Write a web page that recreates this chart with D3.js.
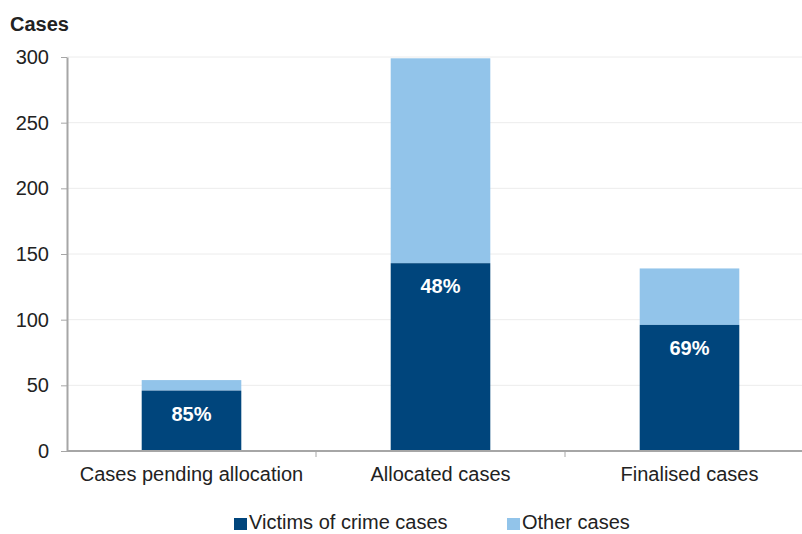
<!DOCTYPE html>
<html>
<head>
<meta charset="utf-8">
<script src="https://cdn.jsdelivr.net/npm/d3@7"></script>
<style>
  body { margin: 0; background: #fff; }
  svg { font-family: "Liberation Sans", Arial, sans-serif; }
</style>
</head>
<body>
<svg id="chart" width="802" height="534"></svg>
<script>
// datos
var categorias = ["Cases pending allocation", "Allocated cases", "Finalised cases"];
var victimas   = [46, 143, 96];
var otros      = [8, 156, 43];
var etiquetas  = ["85%", "48%", "69%"];
var yTicks     = [0, 50, 100, 150, 200, 250, 300];
var series     = ["Victims of crime cases", "Other cases"];
var colores    = ["#00457c", "#92c4ea"];

var svg = d3.select("#chart");

// margenes
var x0 = 67, x1 = 814, yTop = 57, yBot = 451;

var xScale = d3.scaleBand()
               .domain(categorias)
               .range([x0, x1])
               .paddingInner(0.6)
               .paddingOuter(0.3);

var yScale = d3.scaleLinear()
               .domain([0, 300])
               .range([yBot, yTop]);

// cuadricula
svg.append("g")
   .selectAll("line")
   .data(yTicks.slice(1))
   .enter().append("line")
   .attr("x1", x0).attr("x2", x1)
   .attr("y1", d => yScale(d)).attr("y2", d => yScale(d))
   .attr("stroke", "#ececec");

// barras apiladas
var datos = categorias.map((c, i) => ({cat: c, v: victimas[i], o: otros[i], lab: etiquetas[i]}));

svg.append("g").selectAll("rect")
   .data(datos).enter().append("rect")
   .attr("x", d => xScale(d.cat))
   .attr("width", xScale.bandwidth())
   .attr("y", d => yScale(d.v + d.o))
   .attr("height", d => yScale(d.v) - yScale(d.v + d.o))
   .attr("fill", colores[1]);

svg.append("g").selectAll("rect")
   .data(datos).enter().append("rect")
   .attr("x", d => xScale(d.cat))
   .attr("width", xScale.bandwidth())
   .attr("y", d => yScale(d.v))
   .attr("height", d => yBot - yScale(d.v))
   .attr("fill", colores[0]);

svg.append("g").selectAll("text")
   .data(datos).enter().append("text")
   .attr("x", d => xScale(d.cat) + xScale.bandwidth() / 2)
   .attr("y", d => yScale(d.v) + 30)
   .attr("text-anchor", "middle")
   .attr("fill", "#fff")
   .style("font-size", "20px")
   .style("font-weight", "bold")
   .text(d => d.lab);

// eje de y
var yAxis = d3.axisLeft(yScale)
              .tickValues(yTicks)
              .tickSizeInner(6)
              .tickSizeOuter(0)
              .tickPadding(12);

var gy = svg.append("g")
            .attr("transform", "translate(" + x0 + ",0)")
            .call(yAxis);
gy.selectAll("text").style("font-size", "20px").attr("fill", "#222");
gy.selectAll("line").attr("stroke", "#a6a6a6");
gy.select(".domain").attr("stroke", "#a6a6a6").attr("stroke-width", 2);

// eje de x
var step = xScale.step();
var sep = categorias.slice(1).map((c) => xScale(c) - (step - xScale.bandwidth()) / 2);

var gx = svg.append("g");
gx.append("line")
  .attr("x1", x0).attr("x2", x1)
  .attr("y1", yBot).attr("y2", yBot)
  .attr("stroke", "#a6a6a6").attr("stroke-width", 2);
gx.selectAll(".sep").data(sep).enter().append("line")
  .attr("x1", d => d).attr("x2", d => d)
  .attr("y1", yBot).attr("y2", yBot + 6)
  .attr("stroke", "#a6a6a6");
gx.selectAll("text").data(categorias).enter().append("text")
  .attr("x", d => xScale(d) + xScale.bandwidth() / 2)
  .attr("y", yBot + 30)
  .attr("text-anchor", "middle")
  .attr("fill", "#222")
  .style("font-size", "20px")
  .text(d => d);

// titulo del eje de y
svg.append("text")
   .attr("x", 10).attr("y", 31)
   .style("font-size", "20px")
   .style("font-weight", "bold")
   .attr("fill", "#222")
   .text("Cases");

// leyenda
var legX = [234, 507];
var leg = svg.append("g").selectAll("g")
             .data(series).enter().append("g")
             .attr("transform", (d, i) => "translate(" + legX[i] + ",517)");
leg.append("rect")
   .attr("y", 1)
   .attr("width", 13).attr("height", 12)
   .attr("fill", (d, i) => colores[i]);
leg.append("text")
   .attr("x", 15).attr("y", 12)
   .style("font-size", "20px")
   .attr("fill", "#222")
   .text(d => d);
</script>
</body>
</html>
